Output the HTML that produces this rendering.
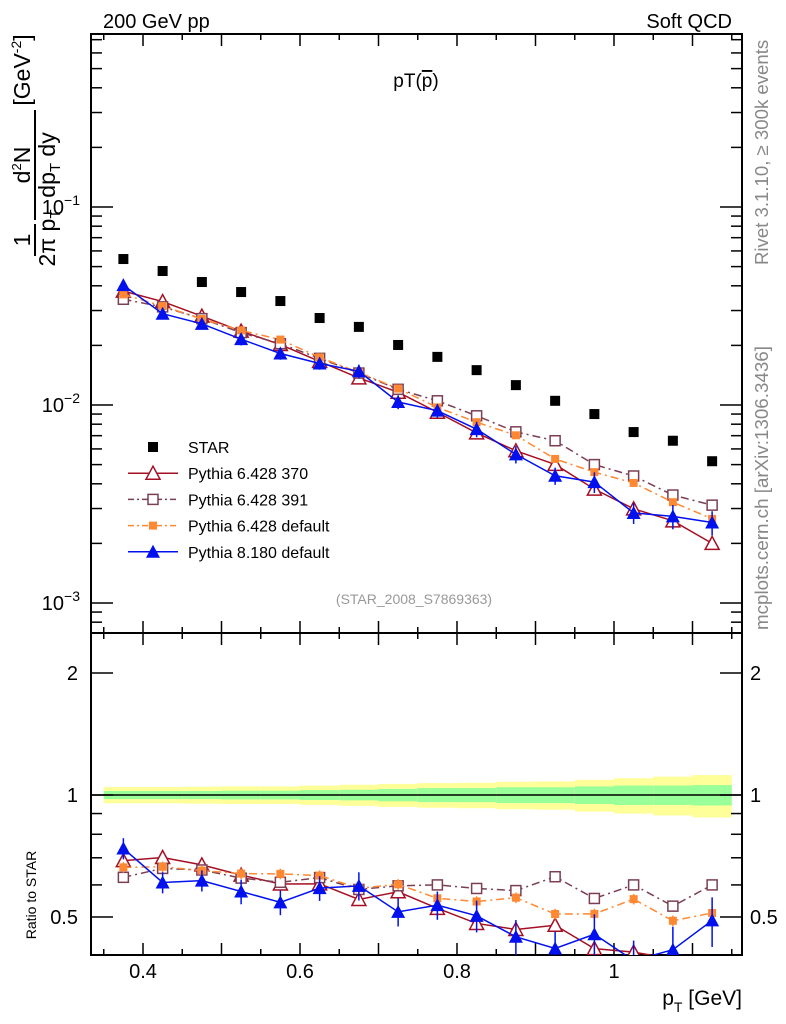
<!DOCTYPE html>
<html><head><meta charset="utf-8"><style>
html,body{margin:0;padding:0;background:#fff;}
svg{display:block;font-family:"Liberation Sans",sans-serif;}
</style></head><body>
<svg id="chart" width="786" height="1024" viewBox="0 0 786 1024" xmlns="http://www.w3.org/2000/svg">
<g id="bands"></g>
<g id="axes"></g>
<g id="series"></g>
<text x="103" y="28" font-size="20">200 GeV pp</text>
<text x="732" y="28" font-size="20" text-anchor="end">Soft QCD</text>
<text x="416" y="87" font-size="19" text-anchor="middle">pT(<tspan text-decoration="overline">p</tspan>)</text>
<text x="414" y="604" font-size="14" fill="#999" text-anchor="middle">(STAR_2008_S7869363)</text>
<text transform="translate(768,265) rotate(-90)" font-size="18.6" fill="#888">Rivet 3.1.10, ≥ 300k events</text>
<text transform="translate(768,630) rotate(-90)" font-size="18.8" fill="#888">mcplots.cern.ch [arXiv:1306.3436]</text>
<g font-size="23">
<text transform="translate(30,240) rotate(-90)" text-anchor="middle">1</text>
<line x1="35" y1="224" x2="35" y2="256" stroke="#000" stroke-width="2"/>
<text transform="translate(55,238) rotate(-90)" text-anchor="middle">2π p<tspan font-size="15" dy="5">T</tspan></text>
<text transform="translate(30,165) rotate(-90)" text-anchor="middle">d<tspan font-size="13" dy="-9">2</tspan><tspan dy="9">N</tspan></text>
<line x1="35" y1="110" x2="35" y2="220" stroke="#000" stroke-width="2"/>
<text transform="translate(55,165) rotate(-90)" text-anchor="middle">dp<tspan font-size="15" dy="5">T</tspan><tspan dy="-5"> dy</tspan></text>
<text transform="translate(30,70) rotate(-90)" text-anchor="middle">[GeV<tspan font-size="14" dy="-9">-2</tspan><tspan dy="9">]</tspan></text>
</g>
<text transform="translate(36,895) rotate(-90)" font-size="14" text-anchor="middle">Ratio to STAR</text>
<text x="742" y="1005" font-size="21" text-anchor="end">p<tspan font-size="14" dy="7">T</tspan><tspan dy="-7"> [GeV]</tspan></text>
<g id="legend"></g>
</svg>
<script>
const pt = [0.375,0.425,0.475,0.525,0.575,0.625,0.675,0.725,0.775,0.825,0.875,0.925,0.975,1.025,1.075,1.125];
const star = [0.0546,0.0475,0.0418,0.0372,0.0335,0.0275,0.0248,0.0201,0.0175,0.0150,0.0126,0.0105,0.0090,0.0073,0.0066,0.0052];
const py370 = [0.0376,0.0333,0.0281,0.0236,0.0202,0.0166,0.0137,0.0116,0.00919,0.00723,0.00587,0.00501,0.00376,0.00299,0.00260,0.00200];
const py391 = [0.0342,0.0313,0.0273,0.0232,0.0204,0.0172,0.0145,0.0120,0.0105,0.00882,0.00732,0.00660,0.00500,0.00438,0.00351,0.00312];
const py6def = [0.0362,0.0316,0.0272,0.0238,0.0214,0.0174,0.0146,0.0121,0.00973,0.00819,0.00703,0.00534,0.00458,0.00404,0.00323,0.00266];
const py8def = [0.0403,0.0289,0.0257,0.0215,0.0182,0.0162,0.0148,0.01035,0.00936,0.00755,0.00563,0.00439,0.00408,0.00285,0.00274,0.00255];
const py8err = [0.06,0.06,0.06,0.07,0.07,0.07,0.08,0.08,0.08,0.09,0.1,0.1,0.12,0.12,0.14,0.14];
const statErr = [0.023,0.023,0.023,0.025,0.025,0.028,0.03,0.035,0.04,0.04,0.045,0.045,0.05,0.055,0.055,0.058];
const totErr = [0.046,0.046,0.048,0.05,0.05,0.055,0.06,0.065,0.07,0.072,0.078,0.08,0.09,0.1,0.11,0.12];
const xTicks = [0.4,0.6,0.8,1];
const xTickLabels = ["0.4","0.6","0.8","1"];
const ratioTicks = [0.5,1,2];
const ratioTickLabels = ["0.5","1","2"];

const NS="http://www.w3.org/2000/svg";
const L=91,R=742,T=34,MB=633,B=955;
function X(v){return 143+(v-0.4)*785;}
function Y(v){return 207-(Math.log10(v)+1)*198;}
function YR(r){return 795-Math.log2(r)*122;}
function mk(tag,at,parent){const e=document.createElementNS(NS,tag);for(const k in at)e.setAttribute(k,at[k]);parent.appendChild(e);return e;}
const axes=document.getElementById('axes'),ser=document.getElementById('series'),bands=document.getElementById('bands'),leg=document.getElementById('legend');

for(let i=0;i<pt.length;i++){
  const x0=X(pt[i]-0.025),w=X(pt[i]+0.025)-x0;
  const yb=mk('rect',{x:x0,y:YR(1+totErr[i]),width:w,height:YR(1-totErr[i])-YR(1+totErr[i]),fill:'#ffff99'},bands);
  
  
  const gb=mk('rect',{x:x0,y:YR(1+statErr[i]),width:w,height:YR(1-statErr[i])-YR(1+statErr[i]),fill:'#99ff99'},bands);
  
  
}
mk('line',{x1:L,x2:R,y1:YR(1),y2:YR(1),stroke:'#000','stroke-width':1.5},axes);
const f1=mk('rect',{x:L,y:T,width:R-L,height:MB-T,fill:'none',stroke:'#000','stroke-width':2},axes);


const f2=mk('rect',{x:L,y:MB,width:R-L,height:B-MB,fill:'none',stroke:'#000','stroke-width':2},axes);


for(let k=0;k<=16;k++){const v=0.35+k*0.05;const x=X(v);if(x<L||x>R)continue;
  const major=Math.abs(v*10-Math.round(v*10))<1e-6;const l=major?12:6;
  mk('line',{x1:x,x2:x,y1:B,y2:B-l,stroke:'#000','stroke-width':1.5},axes);
  mk('line',{x1:x,x2:x,y1:MB,y2:MB+l,stroke:'#000','stroke-width':1.5},axes);
  mk('line',{x1:x,x2:x,y1:MB,y2:MB-l,stroke:'#000','stroke-width':1.5},axes);
  mk('line',{x1:x,x2:x,y1:T,y2:T+l,stroke:'#000','stroke-width':1.5},axes);}
xTicks.forEach((v,i)=>{const t=mk('text',{x:X(v),y:978,'font-size':20,'text-anchor':'middle'},axes);t.textContent=xTickLabels[i];
  
  });
for(let d=-4;d<=0;d++){for(let m=1;m<=9;m++){const v=m*Math.pow(10,d);const y=Y(v);if(y<T||y>MB)continue;
  const l=m==1?22:11;
  mk('line',{x1:L,x2:L+l,y1:y,y2:y,stroke:'#000','stroke-width':1.5},axes);
  mk('line',{x1:R,x2:R-l,y1:y,y2:y,stroke:'#000','stroke-width':1.5},axes);
  if(m==1){const t=mk('text',{x:80,y:y+7,'font-size':20,'text-anchor':'end'},axes);t.innerHTML='10<tspan font-size="14" dy="-9">'+(d==-1?'−1':d==-2?'−2':'−3')+'</tspan>';
    
    }}}
[0.5,0.6,0.7,0.8,0.9,1,2].forEach(v=>{const y=YR(v);const l=(v==0.5||v==1||v==2)?22:11;
  mk('line',{x1:L,x2:L+l,y1:y,y2:y,stroke:'#000','stroke-width':1.5},axes);
  mk('line',{x1:R,x2:R-l,y1:y,y2:y,stroke:'#000','stroke-width':1.5},axes);});
ratioTicks.forEach((v,i)=>{const y=YR(v)+7;
  const a=mk('text',{x:78,y:y,'font-size':20,'text-anchor':'end'},axes);a.textContent=ratioTickLabels[i];
  
  
  const b=mk('text',{x:750,y:y,'font-size':20},axes);b.textContent=ratioTickLabels[i];
  
  });

function marker(g,type,color,x,y){
  if(type=='sq')mk('rect',{x:x-5,y:y-5,width:10,height:10,fill:color},g);
  else if(type=='osq')mk('rect',{x:x-5,y:y-5,width:10,height:10,fill:'#fff',stroke:color,'stroke-width':1.5},g);
  else if(type=='ssq')mk('rect',{x:x-4,y:y-4,width:8,height:8,fill:color},g);
  else if(type=='otri')mk('polygon',{points:`${x},${y-7} ${x-7},${y+6} ${x+7},${y+6}`,fill:'#fff',stroke:color,'stroke-width':1.5},g);
  else if(type=='tri')mk('polygon',{points:`${x},${y-7} ${x-7},${y+6} ${x+7},${y+6}`,fill:color},g);
}
const defs=[
 {name:'pythia-6428-370',data:py370,color:'#a50f23',m:'otri',dash:''},
 {name:'pythia-6428-391',data:py391,color:'#7b3f55',m:'osq',dash:'8,4,2,4'},
 {name:'pythia-6428-default',data:py6def,color:'#ff8833',m:'ssq',dash:'8,4,2,4'},
 {name:'pythia-8180-default',data:py8def,color:'#0011ee',m:'tri',dash:'',err:py8err}
];
const clip=mk('clipPath',{id:'rc'},document.getElementById('chart'));mk('rect',{x:L,y:MB,width:R-L,height:B-MB},clip);
defs.forEach(s=>{
  const g=mk('g',{},ser);
  
  
  const gr=mk('g',{'clip-path':'url(#rc)'},ser);
  
  
  const p1=pt.map((v,i)=>X(v)+','+Y(s.data[i])).join(' ');
  const p2=pt.map((v,i)=>X(v)+','+YR(s.data[i]/star[i])).join(' ');
  mk('polyline',{points:p1,fill:'none',stroke:s.color,'stroke-width':1.5,'stroke-dasharray':s.dash},g);
  mk('polyline',{points:p2,fill:'none',stroke:s.color,'stroke-width':1.5,'stroke-dasharray':s.dash},gr);
  pt.forEach((v,i)=>{
    const e=s.err?s.err[i]:0.03;const r=s.data[i]/star[i];
    mk('line',{x1:X(v),x2:X(v),y1:Y(s.data[i]*(1+e)),y2:Y(s.data[i]*(1-e)),stroke:s.color,'stroke-width':1.5},g);
    mk('line',{x1:X(v),x2:X(v),y1:YR(r*(1+e)),y2:YR(r*(1-e)),stroke:s.color,'stroke-width':1.5},gr);
    marker(g,s.m,s.color,X(v),Y(s.data[i]));
    marker(gr,s.m,s.color,X(v),YR(r));
  });
});
const gs=mk('g',{},ser);


pt.forEach((v,i)=>marker(gs,'sq','#000',X(v),Y(star[i])));
const legItems=[['STAR','sq','#000',''],['Pythia 6.428 370','otri','#a50f23',''],['Pythia 6.428 391','osq','#7b3f55','6,3,2,3'],['Pythia 6.428 default','ssq','#ff8833','6,3,2,3'],['Pythia 8.180 default','tri','#0011ee','']];
legItems.forEach((it,i)=>{const y=447+i*26.2;const g=mk('g',{},leg);
  
  
  if(i>0)mk('line',{x1:128,x2:178,y1:y,y2:y,stroke:it[2],'stroke-width':1.5,'stroke-dasharray':it[3]},g);
  marker(g,it[1],it[2],153,y);
  const t=mk('text',{x:188,y:y+6,'font-size':16},g);t.textContent=it[0];});
</script>
</body></html>
